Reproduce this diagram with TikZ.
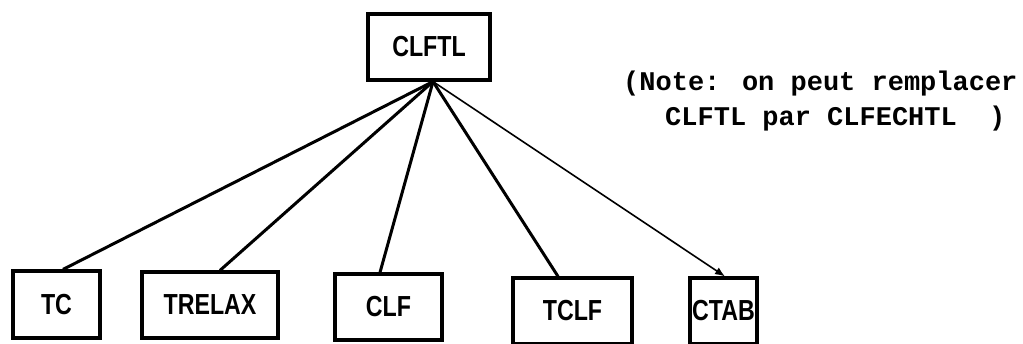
\documentclass[tikz,border=0pt]{standalone}
\usepackage{fontspec}
\setmainfont{Liberation Sans}
\newfontfamily\boxfont[FakeStretch=0.8]{Liberation Sans}
\newfontfamily\notefont{Liberation Mono}
\usetikzlibrary{arrows.meta}
\tikzset{
  box/.style={draw, line width=3.2pt, inner sep=0pt, font=\boxfont\fontsize{29}{32}\selectfont\bfseries},
  link/.style={line width=3pt},
  thinlink/.style={line width=1.6pt, -{Latex[length=10pt,width=8pt]}},
  note/.style={anchor=base west, inner sep=0pt, font=\notefont\bfseries\fontsize{27}{30}\selectfont}
}
\begin{document}
\begin{tikzpicture}[x=1pt,y=-1pt]
\useasboundingbox (0,0) rectangle (1023,343);
\node[box, minimum width=122pt, minimum height=66pt] (top) at (429,47) {CLFTL};
\node[box, minimum width=87pt, minimum height=67pt] (tc) at (56.5,304.5) {TC};
\node[box, minimum width=136pt, minimum height=66pt] (trelax) at (210,305) {TRELAX};
\node[box, minimum width=107pt, minimum height=66pt] (clf) at (388.5,307) {CLF};
\node[box, minimum width=119pt, minimum height=66pt] (tclf) at (572.5,311) {TCLF};
\node[box, minimum width=67pt, minimum height=66pt] (ctab) at (723.5,311) {CTAB};
\coordinate (apex) at ([xshift=4pt]top.south);
\draw[link] (apex) -- ([xshift=6.5pt]tc.north);
\draw[link] (apex) -- ([xshift=10pt]trelax.north);
\draw[link] (apex) -- ([xshift=-8.5pt]clf.north);
\draw[link] (apex) -- ([xshift=-14.5pt]tclf.north);
\draw[thinlink] (apex) -- ([xshift=1.5pt]ctab.north);
\node[note] (n1) at (623,90) {(Note: on peut remplacer};
\node[note] (n2) at (665,125) {CLFTL par CLFECHTL\ \ )};
\end{tikzpicture}
\end{document}
